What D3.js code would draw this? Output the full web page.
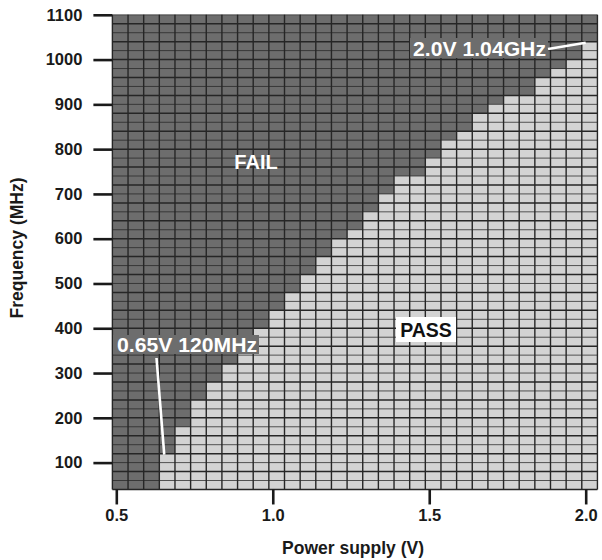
<!DOCTYPE html>
<html><head><meta charset="utf-8">
<script src="https://cdn.jsdelivr.net/npm/d3@7"></script>
<style>
body{margin:0;background:#fff;}
text{font-family:"Liberation Sans",Arial,sans-serif;font-weight:bold;}
</style></head>
<body><svg id="c" width="602" height="560"></svg>
<script>
// Supply voltages (columns, V)
const voltages = [0.50,0.55,0.60,0.65,0.70,0.75,0.80,0.85,0.90,0.95,1.00,1.05,1.10,1.15,1.20,1.25,1.30,1.35,1.40,1.45,1.50,1.55,1.60,1.65,1.70,1.75,1.80,1.85,1.90,1.95,2.00];
// Highest passing frequency for each voltage (MHz), 0 = fails everywhere
const fmaxPass = [0,0,0,120,180,240,280,320,360,400,440,480,520,560,600,620,660,700,740,740,780,820,840,880,900,920,920,960,980,1000,1040];
// Frequency rows (top edge of each 20 MHz bin, MHz)
const freqRows = [60,80,100,120,140,160,180,200,220,240,260,280,300,320,340,360,380,400,420,440,460,480,500,520,540,560,580,600,620,640,660,680,700,720,740,760,780,800,820,840,860,880,900,920,940,960,980,1000,1020,1040,1060,1080,1100];
const rowStep = 20, colStep = 0.05, colOffset = 0.0125;
const xTicks = [0.5,1.0,1.5,2.0];
const yTicks = [100,200,300,400,500,600,700,800,900,1000,1100];
const labels = {fail:"FAIL", pass:"PASS", low:"0.65V 120MHz", high:"2.0V 1.04GHz"};

const svg = d3.select("#c");
const x = d3.scaleLinear().domain([0.5,2.0]).range([116.3,585.7]);
const y = d3.scaleLinear().domain([100,1100]).range([462.6,14.8]);

const FAIL="#6d6d6d", PASS="#d3d3d3", GRID="#262626";

const cells=[];
voltages.forEach((v,i)=>freqRows.forEach(f=>cells.push({v,f,pass:f<=fmaxPass[i]})));
svg.append("g").selectAll("rect").data(cells).join("rect")
  .attr("x",d=>x(d.v-colOffset)).attr("width",d=>x(d.v-colOffset+colStep)-x(d.v-colOffset))
  .attr("y",d=>y(d.f)).attr("height",d=>y(d.f-rowStep)-y(d.f))
  .attr("fill",d=>d.pass?PASS:FAIL).attr("shape-rendering","crispEdges");

const x0=x(voltages[0]-colOffset), x1=x(voltages[voltages.length-1]-colOffset+colStep);
const y0=y(freqRows[0]-rowStep), y1=y(freqRows[freqRows.length-1]);
const g=svg.append("g").attr("stroke",GRID);
g.selectAll("line.v").data(voltages.concat([voltages[voltages.length-1]+colStep])).join("line")
  .attr("x1",d=>x(d-colOffset)).attr("x2",d=>x(d-colOffset)).attr("y1",y0).attr("y2",y1).attr("stroke-width",1.4);
g.selectAll("line.h").data([freqRows[0]-rowStep].concat(freqRows)).join("line")
  .attr("y1",d=>y(d)).attr("y2",d=>y(d)).attr("x1",x0).attr("x2",x1)
  .attr("stroke-width",(d,i)=>i%2?1.0:1.5).attr("stroke-opacity",(d,i)=>i%2?0.75:1);

// Axes
const ya=svg.append("g").attr("transform",`translate(${x0},0)`)
  .call(d3.axisLeft(y).tickValues(yTicks).tickSize(19).tickPadding(11).tickFormat(d3.format("d")));
const xa=svg.append("g").attr("transform",`translate(0,${y0})`)
  .call(d3.axisBottom(x).tickValues(xTicks).tickSize(15).tickPadding(5).tickFormat(d3.format(".1f")));
[ya,xa].forEach(a=>{a.select(".domain").remove();
  a.selectAll(".tick line").attr("stroke","#1a1a1a").attr("stroke-width",2.6);
  a.selectAll(".tick text").attr("fill","#1a1a1a").attr("font-size",16.5).attr("font-family","Liberation Sans, Arial, sans-serif").attr("font-weight","bold");});

svg.append("text").attr("transform","translate(23,248) rotate(-90)").attr("text-anchor","middle")
  .attr("font-size",17.5).attr("fill","#1a1a1a").text("Frequency (MHz)");
svg.append("text").attr("x",353).attr("y",554).attr("text-anchor","middle")
  .attr("font-size",17.5).attr("fill","#1a1a1a").text("Power supply (V)");

// Annotations
svg.append("text").attr("x",256).attr("y",169).attr("text-anchor","middle").attr("font-size",20).attr("fill","#fff").text(labels.fail);
svg.append("rect").attr("x",396).attr("y",317).attr("width",60).attr("height",25).attr("fill","#fff");
svg.append("text").attr("x",426).attr("y",337).attr("text-anchor","middle").attr("font-size",19.5).attr("fill","#111").text(labels.pass);

// 0.65V label
svg.append("rect").attr("x",113).attr("y",335).attr("width",146).attr("height",19).attr("fill",FAIL);
svg.append("text").attr("x",117).attr("y",352).attr("font-size",20).attr("fill","#fff")
  .attr("textLength",140).attr("lengthAdjust","spacingAndGlyphs").text(labels.low);
svg.append("line").attr("x1",156.5).attr("y1",358).attr("x2",x(0.65)+1).attr("y2",y(fmaxPass[3])+1)
  .attr("stroke","#fff").attr("stroke-width",2.6);
// 2.0V label
svg.append("rect").attr("x",410).attr("y",38).attr("width",138).attr("height",20).attr("fill",FAIL);
svg.append("text").attr("x",413).attr("y",56).attr("font-size",20).attr("fill","#fff")
  .attr("textLength",133).attr("lengthAdjust","spacingAndGlyphs").text(labels.high);
svg.append("line").attr("x1",548).attr("y1",49).attr("x2",x(2.0)).attr("y2",y(fmaxPass[30])+1)
  .attr("stroke","#fff").attr("stroke-width",2.6);
</script></body></html>
